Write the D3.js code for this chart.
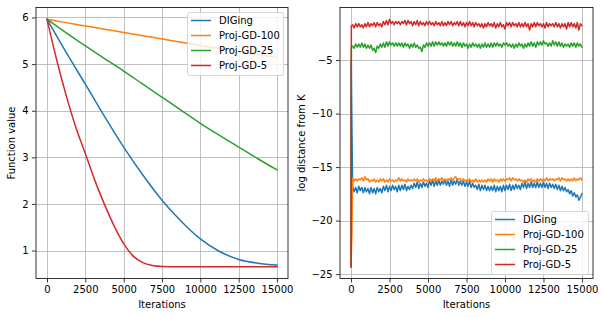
<!DOCTYPE html>
<html><head><meta charset="utf-8">
<script src="https://cdn.jsdelivr.net/npm/d3@7"></script>
<style>
html,body{margin:0;padding:0;background:#fff;}
svg text{font-family:"DejaVu Sans",sans-serif;font-size:10px;fill:#000;}
</style></head>
<body><svg id="c" width="604" height="317"></svg>
<script>
// ---------- DATA ----------
const seriesNames = ["DIGing", "Proj-GD-100", "Proj-GD-25", "Proj-GD-5"];
const seriesColors = ["#1f77b4", "#ff7f0e", "#2ca02c", "#d62728"];

// Left panel: function value
const fvIters = [0,1250,2500,3750,5000,6250,7500,8750,10000,11250,12500,13750,15000];
const fvDIGing = [5.96,5.25,4.57,3.88,3.22,2.62,2.08,1.63,1.25,0.98,0.81,0.73,0.69];
const fvGD100  = [5.96,5.89,5.82,5.75,5.68,5.61,5.54,5.47,5.40,5.335,5.27,5.205,5.14];
const fvGD25   = [5.96,5.67,5.39,5.12,4.85,4.57,4.29,4.01,3.73,3.47,3.22,2.97,2.73];
const fvItersFine = [0,625,1250,1875,2500,3125,3750,4375,5000,5625,6250,6875,7500,8750,10000,11250,12500,13750,15000];
const fvGD5    = [5.96,5.10,4.33,3.65,3.08,2.50,1.99,1.53,1.15,0.88,0.74,0.68,0.66,0.655,0.655,0.655,0.655,0.655,0.655];

// Right panel: log distance from K
const ldHeadIters = {
  "DIGing": [0, 10], "Proj-GD-100": [0, 60], "Proj-GD-25": [0, 20], "Proj-GD-5": [0, 20]
};
const ldHeadDIGing = [-24.3, -5.0];
const ldHeadGD100  = [-24.3, -21.0];
const ldHeadGD25   = [-24.3, -3.8];
const ldHeadGD5    = [-24.3, -1.8];
const ldIters = d3.range(100, 15001, 100);
const ldDIGing = [
-16.8,-17.3,-16.9,-17.4,-16.8,-17.2,-16.9,-17.4,-16.9,-17.3,
-17.0,-17.5,-16.9,-17.4,-17.0,-17.5,-16.9,-17.3,-17.0,-17.4,
-16.8,-17.2,-16.7,-17.3,-16.8,-17.2,-16.7,-17.1,-16.8,-17.3,
-16.7,-17.2,-16.7,-17.1,-16.6,-17.2,-16.8,-17.1,-16.7,-17.0,
-16.5,-16.9,-16.4,-17.0,-16.5,-16.9,-16.4,-16.8,-16.5,-16.9,
-16.3,-16.7,-16.2,-16.8,-16.3,-16.7,-16.2,-16.7,-16.3,-16.6,
-16.2,-16.7,-16.3,-16.8,-16.2,-16.7,-16.3,-16.6,-16.1,-16.7,
-16.3,-16.7,-16.3,-16.8,-16.4,-16.8,-16.3,-16.9,-16.5,-16.9,
-16.7,-17.1,-16.6,-17.2,-16.7,-17.1,-16.7,-17.2,-16.8,-17.2,
-16.8,-17.2,-16.7,-17.3,-16.8,-17.2,-16.8,-17.3,-16.7,-17.2,
-16.7,-17.1,-16.6,-17.2,-16.7,-17.1,-16.6,-17.0,-16.7,-17.1,
-16.5,-16.9,-16.4,-17.0,-16.5,-16.9,-16.4,-16.9,-16.5,-16.9,
-16.4,-16.9,-16.5,-16.9,-16.4,-16.9,-16.5,-17.0,-16.5,-16.9,
-16.6,-17.0,-16.6,-17.1,-16.7,-17.2,-16.8,-17.2,-16.9,-17.3,
-17.1,-17.5,-17.2,-17.7,-17.4,-17.8,-17.6,-18.1,-17.8,-17.5];
const ldGD100 = [
-16.0,-16.3,-16.1,-16.3,-16.1,-16.2,-16.0,-16.3,-15.9,-16.2,
-16.1,-16.4,-16.2,-16.3,-16.1,-16.4,-16.2,-16.4,-16.1,-16.3,
-16.1,-16.4,-16.2,-16.4,-16.1,-16.3,-16.2,-16.4,-16.2,-16.3,
-16.0,-16.3,-16.1,-16.3,-16.2,-16.4,-16.1,-16.3,-16.2,-16.3,
-16.1,-16.3,-16.1,-16.4,-16.2,-16.3,-16.1,-16.3,-16.2,-16.4,
-16.1,-16.3,-16.1,-16.3,-16.0,-16.3,-16.1,-16.2,-16.0,-16.3,
-16.1,-16.3,-16.1,-16.2,-16.0,-16.3,-16.0,-15.9,-16.2,-16.1,
-16.1,-16.3,-16.1,-16.3,-16.2,-16.3,-16.1,-16.4,-16.2,-16.4,
-16.1,-16.4,-16.2,-16.4,-16.2,-16.4,-16.2,-16.4,-16.1,-16.3,
-16.1,-16.4,-16.1,-16.3,-16.2,-16.4,-16.1,-16.3,-16.1,-16.3,
-16.1,-16.2,-16.0,-16.3,-16.0,-16.2,-16.1,-16.3,-16.1,-16.3,
-16.2,-16.4,-16.2,-16.4,-16.1,-16.3,-16.1,-16.4,-16.2,-16.4,
-16.1,-16.3,-16.1,-16.3,-16.1,-16.3,-16.0,-16.3,-16.1,-16.2,
-16.1,-16.3,-16.1,-16.2,-16.0,-16.3,-16.0,-16.2,-16.1,-16.3,
-16.1,-16.3,-16.1,-16.3,-16.0,-16.3,-16.1,-16.2,-16.0,-16.2];
const ldGD25 = [
-3.7,-3.9,-3.5,-3.8,-3.5,-3.8,-3.4,-3.8,-3.5,-3.9,
-3.6,-3.9,-3.6,-4.1,-3.9,-4.3,-3.7,-3.9,-3.5,-3.8,
-3.4,-3.8,-3.3,-3.7,-3.3,-3.6,-3.4,-3.7,-3.4,-3.7,
-3.4,-3.7,-3.4,-3.8,-3.4,-3.7,-3.5,-3.9,-3.5,-3.8,
-3.4,-3.8,-3.6,-3.9,-3.8,-4.2,-3.6,-3.8,-3.4,-3.7,
-3.4,-3.7,-3.3,-3.7,-3.3,-3.6,-3.3,-3.6,-3.4,-3.7,
-3.4,-3.7,-3.3,-3.6,-3.3,-3.7,-3.4,-3.7,-3.3,-3.7,
-3.4,-3.8,-3.4,-3.7,-3.5,-3.9,-3.5,-3.8,-3.4,-3.7,
-3.5,-3.8,-3.5,-3.9,-3.5,-3.8,-3.4,-3.8,-3.5,-3.8,
-3.4,-3.8,-3.4,-3.7,-3.4,-3.7,-3.5,-3.8,-3.4,-3.6,
-3.4,-3.7,-3.5,-3.8,-3.5,-3.9,-3.5,-3.8,-3.4,-3.7,
-3.5,-3.9,-3.5,-3.8,-3.4,-3.7,-3.3,-3.7,-3.4,-3.8,
-3.3,-3.6,-3.3,-3.6,-3.2,-3.5,-3.4,-3.7,-3.4,-3.7,
-3.2,-3.6,-3.3,-3.7,-3.3,-3.7,-3.4,-3.8,-3.5,-3.7,
-3.5,-3.8,-3.4,-3.7,-3.4,-3.8,-3.4,-3.7,-3.5,-3.8];
const ldGD5 = [
-1.7,-2.0,-1.6,-1.9,-1.6,-1.9,-1.7,-2.0,-1.6,-1.9,
-1.5,-1.9,-1.6,-1.8,-1.5,-1.9,-1.5,-1.8,-1.6,-1.9,
-1.4,-1.7,-1.3,-1.7,-1.2,-1.6,-1.4,-1.7,-1.4,-1.6,
-1.4,-1.7,-1.4,-1.6,-1.3,-1.7,-1.3,-1.6,-1.4,-1.8,
-1.4,-1.7,-1.3,-1.8,-1.4,-1.7,-1.5,-1.8,-1.4,-1.7,
-1.4,-1.7,-1.5,-1.8,-1.4,-1.7,-1.5,-1.8,-1.4,-1.8,
-1.5,-1.8,-1.4,-1.7,-1.4,-1.8,-1.5,-1.7,-1.4,-1.8,
-1.4,-1.8,-1.5,-1.9,-1.5,-1.8,-1.4,-1.8,-1.5,-1.9,
-1.5,-1.8,-1.6,-1.9,-1.6,-2.0,-1.6,-1.9,-1.5,-1.8,
-1.6,-1.9,-1.5,-2.0,-1.6,-1.9,-1.5,-1.9,-1.7,-2.1,
-1.5,-1.8,-1.5,-1.9,-1.5,-1.8,-1.6,-1.9,-1.5,-1.9,
-1.6,-1.9,-1.5,-1.9,-1.6,-2.2,-1.6,-1.9,-1.5,-1.9,
-1.5,-1.8,-1.6,-1.9,-1.6,-2.0,-1.5,-1.9,-1.6,-1.8,
-1.6,-1.9,-1.5,-1.9,-1.6,-2.0,-1.6,-1.9,-1.6,-2.1,
-1.5,-1.9,-1.5,-1.9,-1.6,-2.0,-1.5,-2.2,-1.6,-1.8];

const xTicks = [0,2500,5000,7500,10000,12500,15000];
const fvTicks = [1,2,3,4,5,6];
const ldTicks = [-25,-20,-15,-10,-5];

// ---------- BUILD ----------
const zip = (xs, ys) => xs.map((x,i)=>[x, ys[i]]);
const leftSeries = [
  zip(fvIters, fvDIGing), zip(fvIters, fvGD100), zip(fvIters, fvGD25), zip(fvItersFine, fvGD5)
];
const heads = [ldHeadDIGing, ldHeadGD100, ldHeadGD25, ldHeadGD5];
const tails = [ldDIGing, ldGD100, ldGD25, ldGD5];
const rightSeries = seriesNames.map((n,i)=> zip(ldHeadIters[n], heads[i]).concat(zip(ldIters, tails[i])));

const svg = d3.select("#c");
const fmt = v => (v<0 ? "\u2212"+Math.abs(v) : String(v));

function pad(ext){ const r = ext[1]-ext[0]; return [ext[0]-0.05*r, ext[1]+0.05*r]; }

function panel(o){
  const g = svg.append("g");
  const allX = o.series.flat().map(d=>d[0]);
  const allY = o.series.flat().map(d=>d[1]);
  const x = d3.scaleLinear().domain(pad(d3.extent(allX))).range([o.l, o.r]);
  const y = d3.scaleLinear().domain(pad(d3.extent(allY))).range([o.b, o.t]);
  // grid
  const grid = g.append("g").attr("stroke","#b0b0b0").attr("stroke-width",0.8);
  xTicks.forEach(t=>{ const px = Math.round(x(t))+0.5;
    grid.append("line").attr("x1",px).attr("x2",px).attr("y1",o.t).attr("y2",o.b); });
  o.yTicks.forEach(t=>{ const py = Math.round(y(t))+0.5;
    grid.append("line").attr("x1",o.l).attr("x2",o.r).attr("y1",py).attr("y2",py); });
  // lines
  const clipId = "clip"+o.id;
  svg.append("clipPath").attr("id",clipId).append("rect")
    .attr("x",o.l).attr("y",o.t).attr("width",o.r-o.l).attr("height",o.b-o.t);
  const line = d3.line().x(d=>x(d[0])).y(d=>y(d[1])).curve(o.curve);
  const lg = g.append("g").attr("clip-path",`url(#${clipId})`);
  o.series.forEach((s,i)=>{
    lg.append("path").attr("d",line(s)).attr("fill","none")
      .attr("stroke",seriesColors[i]).attr("stroke-width",1.5)
      .attr("stroke-linejoin","round").attr("stroke-linecap","square");
  });
  // spines
  g.append("rect").attr("x",o.l+0.5).attr("y",o.t+0.5).attr("width",o.r-o.l-1).attr("height",o.b-o.t-1)
    .attr("fill","none").attr("stroke","#000").attr("stroke-width",0.8);
  // x ticks
  const xa = g.append("g").attr("transform",`translate(0,${o.b})`)
    .call(d3.axisBottom(x).tickValues(xTicks).tickSize(3.5).tickPadding(3.5).tickFormat(fmt));
  xa.select(".domain").remove();
  xa.selectAll(".tick line").attr("stroke","#000").attr("stroke-width",0.8);
  xa.selectAll("text").attr("font-family","DejaVu Sans").attr("font-size",10).attr("fill","#000");
  const ya = g.append("g").attr("transform",`translate(${o.l},0)`)
    .call(d3.axisLeft(y).tickValues(o.yTicks).tickSize(3.5).tickPadding(3.5).tickFormat(fmt));
  ya.select(".domain").remove();
  ya.selectAll(".tick line").attr("stroke","#000").attr("stroke-width",0.8);
  ya.selectAll("text").attr("font-family","DejaVu Sans").attr("font-size",10).attr("fill","#000");
  // labels
  g.append("text").attr("x",(o.l+o.r)/2).attr("y",308).attr("text-anchor","middle").text("Iterations");
  g.append("text").attr("transform",`translate(${o.ylx},${(o.t+o.b)/2}) rotate(-90)`)
    .attr("text-anchor","middle").text(o.ylabel);
  // legend
  const L = o.legend;
  const lgd = g.append("g");
  lgd.append("rect").attr("x",L.x+0.5).attr("y",L.y+0.5).attr("width",L.w).attr("height",L.h)
    .attr("rx",2).attr("fill","#fff").attr("fill-opacity",0.8).attr("stroke","#cccccc").attr("stroke-width",0.8);
  seriesNames.forEach((n,i)=>{
    const cy = L.y + 8.5 + i*15;
    lgd.append("line").attr("x1",L.x+4).attr("x2",L.x+24).attr("y1",cy).attr("y2",cy)
      .attr("stroke",seriesColors[i]).attr("stroke-width",1.5);
    lgd.append("text").attr("x",L.x+32).attr("y",cy+3.6).text(n);
  });
}

panel({id:"L", l:35.5, r:288.5, t:7, b:279, series:leftSeries, yTicks:fvTicks,
  ylabel:"Function value", ylx:15, curve:d3.curveMonotoneX,
  legend:{x:187, y:12, w:96, h:63}});
panel({id:"R", l:339.5, r:593.5, t:7, b:279, series:rightSeries, yTicks:ldTicks,
  ylabel:"log distance from K", ylx:304.5, curve:d3.curveLinear,
  legend:{x:491, y:211, w:97, h:63}});
</script></body></html>
